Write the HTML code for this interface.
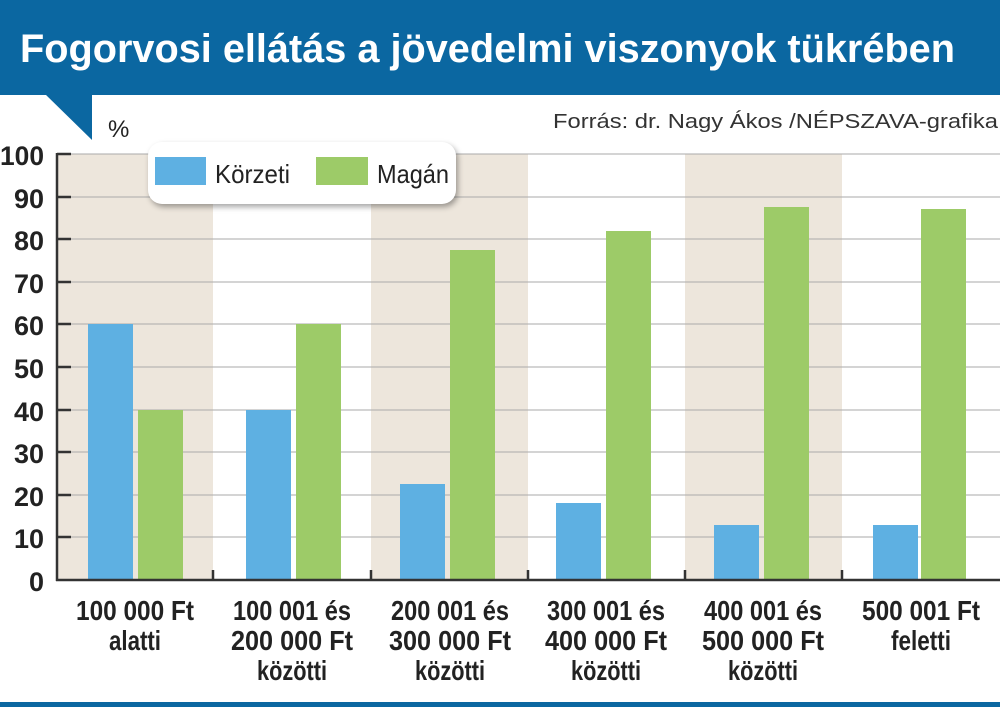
<!DOCTYPE html>
<html><head><meta charset="utf-8"><style>
body{margin:0;width:1000px;height:707px;overflow:hidden;background:#fff}
svg text{font-family:"Liberation Sans Narrow","Liberation Sans",sans-serif}
</style></head><body>
<svg width="1000" height="707" viewBox="0 0 1000 707" xmlns="http://www.w3.org/2000/svg">
<rect x="0" y="0" width="1000" height="95" fill="#0b67a1"/>
<polygon points="45,94 92,94 92,140" fill="#0b67a1"/>
<text x="20" y="62" font-size="40" font-weight="bold" fill="#fff" style="font-family:'Liberation Sans',sans-serif" textLength="935" lengthAdjust="spacingAndGlyphs">Fogorvosi ellátás a jövedelmi viszonyok tükrében</text>
<text x="553" y="128" font-size="20" fill="#333" style="font-family:'Liberation Sans',sans-serif" textLength="445" lengthAdjust="spacingAndGlyphs">Forrás: dr. Nagy Ákos /NÉPSZAVA-grafika</text>
<text x="108" y="137" font-size="24" fill="#222">%</text>
<g fill="#ede6dc">
<rect x="57" y="154" width="156" height="426"/>
<rect x="371" y="154" width="157" height="426"/>
<rect x="685" y="154" width="157" height="426"/>
</g>
<g stroke="#aaa" stroke-width="1">
<line x1="57" y1="154" x2="1000" y2="154"/><line x1="57" y1="197" x2="1000" y2="197"/><line x1="57" y1="239" x2="1000" y2="239"/><line x1="57" y1="282" x2="1000" y2="282"/><line x1="57" y1="324" x2="1000" y2="324"/><line x1="57" y1="367" x2="1000" y2="367"/><line x1="57" y1="410" x2="1000" y2="410"/><line x1="57" y1="452" x2="1000" y2="452"/><line x1="57" y1="495" x2="1000" y2="495"/><line x1="57" y1="537" x2="1000" y2="537"/>
</g>
<g fill="#5eb0e2">
<rect x="88" y="324" width="45" height="256"/>
<rect x="246" y="410" width="45" height="170"/>
<rect x="400" y="484" width="45" height="96"/>
<rect x="556" y="503" width="45" height="77"/>
<rect x="714" y="525" width="45" height="55"/>
<rect x="873" y="525" width="45" height="55"/>
</g>
<g fill="#9dcb68">
<rect x="138" y="410" width="45" height="170"/>
<rect x="296" y="324" width="45" height="256"/>
<rect x="450" y="250" width="45" height="330"/>
<rect x="606" y="231" width="45" height="349"/>
<rect x="764" y="207" width="45" height="373"/>
<rect x="921" y="209" width="45" height="371"/>
</g>
<g stroke="#333" stroke-width="2.5">
<line x1="57" y1="153" x2="57" y2="581"/>
<line x1="56" y1="580" x2="1000" y2="580"/>
<line x1="57" y1="154" x2="71" y2="154"/><line x1="57" y1="197" x2="71" y2="197"/><line x1="57" y1="239" x2="71" y2="239"/><line x1="57" y1="282" x2="71" y2="282"/><line x1="57" y1="324" x2="71" y2="324"/><line x1="57" y1="367" x2="71" y2="367"/><line x1="57" y1="410" x2="71" y2="410"/><line x1="57" y1="452" x2="71" y2="452"/><line x1="57" y1="495" x2="71" y2="495"/><line x1="57" y1="537" x2="71" y2="537"/>
<line x1="213" y1="570" x2="213" y2="580"/><line x1="371" y1="570" x2="371" y2="580"/><line x1="528" y1="570" x2="528" y2="580"/><line x1="685" y1="570" x2="685" y2="580"/><line x1="842" y1="570" x2="842" y2="580"/>
</g>
<g font-size="27" font-weight="bold" fill="#222" text-anchor="end">
<text x="44" y="165" textLength="44" lengthAdjust="spacingAndGlyphs">100</text><text x="44" y="208">90</text><text x="44" y="250">80</text><text x="44" y="293">70</text><text x="44" y="335">60</text><text x="44" y="378">50</text><text x="44" y="421">40</text><text x="44" y="463">30</text><text x="44" y="506">20</text><text x="44" y="548">10</text><text x="44" y="591">0</text>
</g>
<rect x="148" y="142" width="308" height="62" rx="14" fill="#fff" style="filter:drop-shadow(2px 3px 3px rgba(0,0,0,0.35))"/>
<rect x="155" y="157" width="51" height="28" fill="#5eb0e2"/>
<rect x="316" y="157" width="52" height="28" fill="#9dcb68"/>
<g font-size="26" fill="#222"><text x="215" y="183" textLength="75" lengthAdjust="spacingAndGlyphs">Körzeti</text><text x="377" y="183" textLength="72" lengthAdjust="spacingAndGlyphs">Magán</text></g>
<g font-size="28" font-weight="bold" fill="#222" text-anchor="middle" lengthAdjust="spacingAndGlyphs">
<text x="135" y="620" textLength="118" lengthAdjust="spacingAndGlyphs">100 000 Ft</text><text x="135" y="650" textLength="52" lengthAdjust="spacingAndGlyphs">alatti</text>
<text x="292" y="620" textLength="118" lengthAdjust="spacingAndGlyphs">100 001 és</text><text x="292" y="650" textLength="122" lengthAdjust="spacingAndGlyphs">200 000 Ft</text><text x="292" y="680" textLength="70" lengthAdjust="spacingAndGlyphs">közötti</text>
<text x="450" y="620" textLength="118" lengthAdjust="spacingAndGlyphs">200 001 és</text><text x="450" y="650" textLength="122" lengthAdjust="spacingAndGlyphs">300 000 Ft</text><text x="450" y="680" textLength="70" lengthAdjust="spacingAndGlyphs">közötti</text>
<text x="606" y="620" textLength="118" lengthAdjust="spacingAndGlyphs">300 001 és</text><text x="606" y="650" textLength="122" lengthAdjust="spacingAndGlyphs">400 000 Ft</text><text x="606" y="680" textLength="70" lengthAdjust="spacingAndGlyphs">közötti</text>
<text x="763" y="620" textLength="118" lengthAdjust="spacingAndGlyphs">400 001 és</text><text x="763" y="650" textLength="122" lengthAdjust="spacingAndGlyphs">500 000 Ft</text><text x="763" y="680" textLength="70" lengthAdjust="spacingAndGlyphs">közötti</text>
<text x="921" y="620" textLength="118" lengthAdjust="spacingAndGlyphs">500 001 Ft</text><text x="921" y="650" textLength="60" lengthAdjust="spacingAndGlyphs">feletti</text>
</g>
<rect x="0" y="702" width="1000" height="5" fill="#0b67a1"/>
</svg>
</body></html>
